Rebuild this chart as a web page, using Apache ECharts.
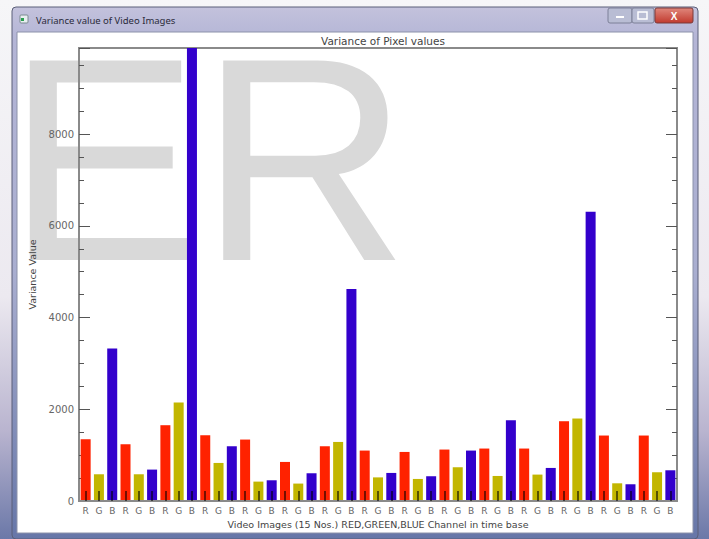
<!DOCTYPE html>
<html>
<head>
<meta charset="utf-8">
<script src="https://cdn.jsdelivr.net/npm/echarts@6/dist/echarts.min.js"></script>
<style>
html,body{margin:0;padding:0;background:#fff;}
#chart{width:709px;height:539px;}
</style>
</head>
<body>
<div id="chart"></div>
<script>
// ---- data ----
const windowTitle = 'Variance value of Video Images';
const chartTitle = 'Variance of Pixel values';
const xAxisTitle = 'Video Images (15 Nos.) RED,GREEN,BLUE Channel in time base';
const yAxisTitle = 'Variance Value';
const channelLabels = ['R', 'G', 'B'];
const redValues   = [1347, 1238, 1653, 1434, 1340,  852, 1194, 1100, 1070, 1122, 1144, 1144, 1740, 1428, 1428];
const greenValues = [ 583,  583, 2148,  830,  423,  380, 1288,  515,  481,  736,  546,  576, 1799,  386,  627];
const blueValues  = [3327,  685, 9880, 1194,  452,  605, 4622,  612,  540, 1100, 1762,  721, 6310,  365,  670];
const yMax = 9880;
const yLabelValues = [0, 2000, 4000, 6000, 8000];

// ---- build ----
const channelColors = ['#ff2200', '#c2b600', '#3300cc'];
const categories = [];
const barData = [];
const channels = [redValues, greenValues, blueValues];
for (let i = 0; i < redValues.length; i++) {
  for (let c = 0; c < 3; c++) {
    categories.push(channelLabels[c]);
    barData.push({ value: channels[c][i], itemStyle: { color: channelColors[c] } });
  }
}

const chart = echarts.init(document.getElementById('chart'), null, { renderer: 'svg' });

const axisGray = '#8a8a8a';
function yAx(pos, interval, len, showLabels, extra) {
  return Object.assign({
    type: 'value', position: pos, min: 0, max: yMax, interval: interval,
    splitLine: { show: false },
    axisLine: { show: true, onZero: false, lineStyle: { color: axisGray, width: 2 } },
    axisTick: { show: true, inside: true, length: len, lineStyle: { color: '#555', width: 1 } },
    axisLabel: showLabels ? {
      show: true, color: '#666', fontSize: 10, margin: 5, fontFamily: 'DejaVu Sans',
      showMaxLabel: false,
      formatter: v => (yLabelValues.indexOf(v) >= 0 ? String(v) : '')
    } : { show: false }
  }, extra || {});
}

const option = {
  animation: false,
  backgroundColor: '#ffffff',
  graphic: [
    { type: 'rect', z: -40, shape: { x: 0, y: 0, width: 709, height: 539 },
      style: { fill: new echarts.graphic.LinearGradient(0, 0, 0, 1, [
        { offset: 0, color: '#f6f6f8' }, { offset: 0.55, color: '#ece9f0' },
        { offset: 0.8, color: '#b9b4cf' }, { offset: 1, color: '#6b78a8' }]) } },
    { type: 'rect', z: -39, shape: { x: 12, y: 7, width: 686, height: 532, r: 4 },
      style: { fill: new echarts.graphic.LinearGradient(0, 0, 0, 1, [
        { offset: 0, color: '#c3c2dc' }, { offset: 0.06, color: '#b4b5d6' },
        { offset: 0.5, color: '#a9aed0' }, { offset: 1, color: '#6676a8' }]),
        stroke: '#5a5f78', lineWidth: 1 } },
    { type: 'rect', z: -38, shape: { x: 17, y: 32, width: 676, height: 501 },
      style: { fill: '#ffffff', stroke: '#8c92aa', lineWidth: 1 } },
    { type: 'text', z: -37, style: { x: 6, y: 159, text: 'ER', fontSize: 290,
      fontFamily: 'Liberation Sans', fill: '#d9d9d9', verticalAlign: 'middle', align: 'left' } },
    { type: 'rect', z: -36, shape: { x: 20, y: 15, width: 8, height: 8, r: 1 },
      style: { fill: '#e8eef0', stroke: '#7a8a90', lineWidth: 1 } },
    { type: 'rect', z: -35, shape: { x: 21, y: 18, width: 3, height: 3 },
      style: { fill: '#2aa050' } },
    { type: 'text', z: -34, style: { x: 36, y: 20, text: windowTitle, fontSize: 9.5,
      fontFamily: 'Noto Sans', fill: '#2a2a3a', verticalAlign: 'middle' } },
    { type: 'rect', z: -33, shape: { x: 608, y: 8, width: 24, height: 15, r: 2 },
      style: { fill: '#b9bdd4', stroke: '#7d8098', lineWidth: 1 } },
    { type: 'rect', z: -33, shape: { x: 632, y: 8, width: 22, height: 15, r: 2 },
      style: { fill: '#b9bdd4', stroke: '#7d8098', lineWidth: 1 } },
    { type: 'rect', z: -33, shape: { x: 655, y: 8, width: 38, height: 15, r: 2 },
      style: { fill: new echarts.graphic.LinearGradient(0, 0, 0, 1, [
        { offset: 0, color: '#e0877c' }, { offset: 1, color: '#c13a2e' }]), stroke: '#7a3a3a', lineWidth: 1 } },
    { type: 'rect', z: -32, shape: { x: 616, y: 16, width: 8, height: 2 }, style: { fill: '#ffffff' } },
    { type: 'rect', z: -32, shape: { x: 638, y: 12, width: 9, height: 7 }, style: { fill: 'none', stroke: '#ffffff', lineWidth: 1.5 } },
    { type: 'text', z: -32, style: { x: 674, y: 16, text: 'X', fontSize: 10, fontWeight: 'bold',
      fontFamily: 'Liberation Sans', fill: '#ffffff', align: 'center', verticalAlign: 'middle' } }
  ],
  title: {
    text: chartTitle, left: 378, top: 30, textAlign: 'center',
    textStyle: { fontSize: 10.5, fontWeight: 'normal', color: '#444', fontFamily: 'DejaVu Sans' }
  },
  grid: { left: 79, right: 32, top: 48, bottom: 38, show: true, borderColor: axisGray, borderWidth: 2, backgroundColor: 'transparent' },
  xAxis: [{
    type: 'category', data: categories, position: 'bottom', z: 10,
    axisLine: { show: true, lineStyle: { color: axisGray, width: 2 } },
    axisTick: { show: true, inside: true, alignWithLabel: true, interval: 0, length: 10,
      lineStyle: { color: 'rgba(0,0,0,0.55)', width: 2 } },
    axisLabel: { interval: 0, fontSize: 9, color: '#666', margin: 5, fontFamily: 'DejaVu Sans' },
    splitLine: { show: false },
    name: xAxisTitle, nameLocation: 'middle', nameGap: 16,
    nameTextStyle: { fontSize: 9.5, color: '#444', fontFamily: 'DejaVu Sans' }
  }],
  yAxis: [
    yAx('left', 500, 5, true, { name: yAxisTitle, nameLocation: 'middle', nameGap: 37,
      nameTextStyle: { fontSize: 9.5, color: '#444', fontFamily: 'DejaVu Sans' } }),
    yAx('left', 2000, 11, false, { axisLine: { show: false } }),
    yAx('right', 500, 5, false),
    yAx('right', 2000, 11, false, { axisLine: { show: false } })
  ],
  series: [{
    type: 'bar', xAxisIndex: 0, yAxisIndex: 0, barWidth: 10, data: barData, z: 2
  }]
};
chart.setOption(option);
</script>
</body>
</html>
